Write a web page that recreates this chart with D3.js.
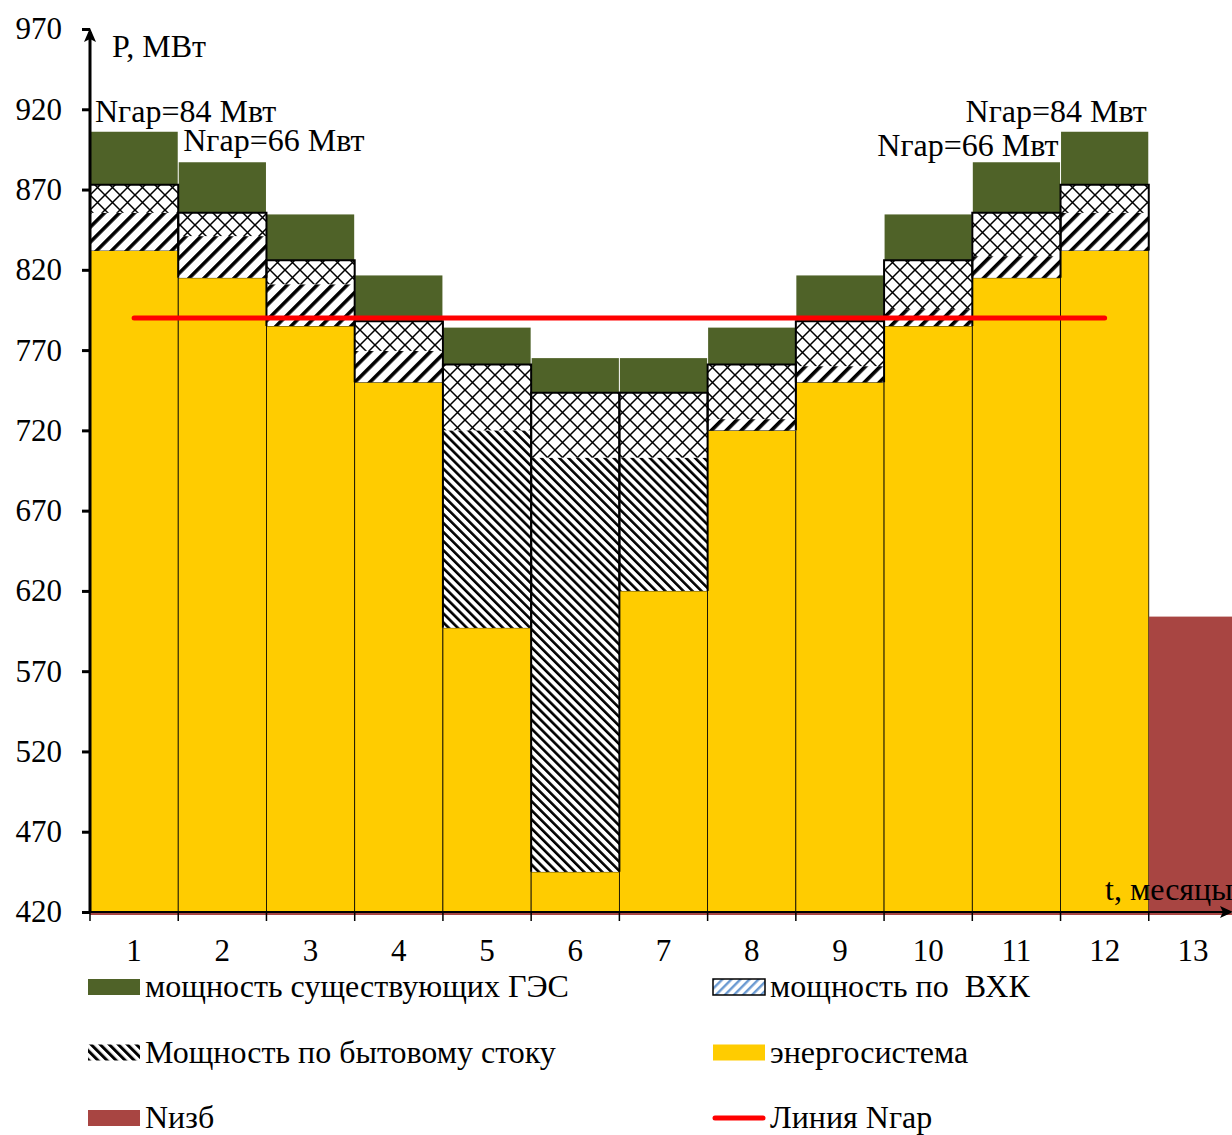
<!DOCTYPE html>
<html>
<head>
<meta charset="utf-8">
<script src="https://cdn.jsdelivr.net/npm/d3@7"></script>
<style>
  body { margin: 0; background: #fff; }
  text { font-family: "Liberation Serif", "DejaVu Serif", serif; fill: #000; }
</style>
</head>
<body>
<div id="chart"></div>
<script>
//////////////////////////////////////////////// Data //////////////////////////////////////////////
const months = [1, 2, 3, 4, 5, 6, 7, 8, 9, 10, 11, 12];
const allMonths = [1, 2, 3, 4, 5, 6, 7, 8, 9, 10, 11, 12, 13];
const energo  = [832, 815, 785, 750, 597, 445, 620, 720, 750, 785, 815, 832];   // энергосистема
const bytovoy = [23.5, 26, 26, 19.5, 123, 258, 83, 7, 10, 10.5, 13.5, 23.5];    // по бытовому стоку
const vhk     = [17.5, 14.5, 15, 18.5, 41, 40.5, 40.5, 34, 28, 30.5, 27, 17.5]; // по ВХК
const ges     = [33, 31.5, 28.5, 28.5, 23, 21.5, 21.5, 23, 28.5, 28.5, 31.5, 33]; // существующие ГЭС
const nizbMonths = [13];
const nizbValues = [604];
const ngar = 790;
const yTicks = [420, 470, 520, 570, 620, 670, 720, 770, 820, 870, 920, 970];

const notes = [
  {text: "Nгар=84 Мвт", month: 1, value: 912, side: "left"},
  {text: "Nгар=66 Мвт", month: 2, value: 894, side: "left"},
  {text: "Nгар=84 Мвт", month: 12, value: 912, side: "right"},
  {text: "Nгар=66 Мвт", month: 11, value: 891, side: "right"}
];

//////////////////////////////////////////////// Set-up //////////////////////////////////////////////
const W = 1232, H = 1135;
const fs = 31;
const colors = {ges: "#4f6228", energo: "#ffcc00", nizb: "#a84542", line: "#ff0000"};
const hatchDownMonths = [5, 6, 7]; // these bars use the "\" stripe in the original

const x = d3.scaleBand().domain(allMonths).range([90, 1237]).padding(0);
const y = d3.scaleLinear().domain([420, 970]).range([912, 29]);

const svg = d3.select("#chart").append("svg")
  .attr("width", W).attr("height", H);

const defs = svg.append("defs");

function stripes(id, angle, period, thick, color) {
  const p = defs.append("pattern")
    .attr("id", id)
    .attr("patternUnits", "userSpaceOnUse")
    .attr("width", period).attr("height", 10)
    .attr("patternTransform", "rotate(" + angle + ")");
  p.append("rect").attr("width", period).attr("height", 10).attr("fill", "#fff");
  p.append("rect").attr("width", thick).attr("height", 10).attr("fill", color);
}
stripes("hatchDown", -45, 6.4, 2.6, "#000");
stripes("hatchUp", 45, 10.6, 3.6, "#000");
stripes("hatchLegend", -45, 6.4, 3, "#000");
stripes("vhkLegend", 45, 6.4, 2.4, "#6c9bd2");

const cross = defs.append("pattern")
  .attr("id", "cross")
  .attr("patternUnits", "userSpaceOnUse")
  .attr("width", 15).attr("height", 15);
cross.append("rect").attr("width", 15).attr("height", 15).attr("fill", "#fff");
cross.append("path").attr("d", "M0,0L15,15M15,0L0,15")
  .attr("stroke", "#000").attr("stroke-width", 1.5);

//////////////////////////////////////////////// Bars //////////////////////////////////////////////
const table = months.map((m, i) => ({month: m, energo: energo[i], bytovoy: bytovoy[i], vhk: vhk[i], ges: ges[i]}));
const keys = ["energo", "bytovoy", "vhk", "ges"];
const series = d3.stack().keys(keys)(table);

const yv = v => y(Math.max(v, 420));

function fillFor(key, d) {
  if (key === "energo") return colors.energo;
  if (key === "ges") return colors.ges;
  if (key === "vhk") return "url(#cross)";
  return hatchDownMonths.includes(d.data.month) ? "url(#hatchDown)" : "url(#hatchUp)";
}

const layers = svg.append("g").selectAll("g")
  .data(series).enter().append("g");

layers.selectAll("rect")
  .data(s => s.map(d => Object.assign(d, {key: s.key})))
  .enter().append("rect")
  .attr("x", d => x(d.data.month) + (d.key === "ges" ? 0.5 : 0))
  .attr("width", d => x.bandwidth() - (d.key === "ges" ? 1 : 0))
  .attr("y", d => yv(d[1]))
  .attr("height", d => yv(d[0]) - yv(d[1]))
  .attr("fill", d => fillFor(d.key, d))
  .attr("stroke", d => d.key === "energo" ? "#000" : "none")
  .attr("stroke-width", 0.8);

// outline round the hatched part of each bar
svg.append("g").selectAll("path")
  .data(table).enter().append("path")
  .attr("fill", "none").attr("stroke", "#000").attr("stroke-width", 2)
  .attr("d", d => {
    const x0 = x(d.month), x1 = x0 + x.bandwidth();
    const b = y(d.energo), t = y(d.energo + d.bytovoy + d.vhk);
    return "M" + x0 + "," + b + "V" + t + "H" + x1 + "V" + b;
  });

// Nизб
svg.append("g").selectAll("rect")
  .data(nizbMonths.map((m, i) => ({month: m, value: nizbValues[i]})))
  .enter().append("rect")
  .attr("x", d => x(d.month))
  .attr("width", x.bandwidth())
  .attr("y", d => y(d.value))
  .attr("height", d => y(420) - y(d.value))
  .attr("fill", colors.nizb);

// Nгар line
svg.append("line")
  .attr("x1", x(1) + x.bandwidth() / 2).attr("x2", x(12) + x.bandwidth() / 2)
  .attr("y1", y(ngar)).attr("y2", y(ngar))
  .attr("stroke", colors.line).attr("stroke-width", 5).attr("stroke-linecap", "round");

//////////////////////////////////////////////// Axes //////////////////////////////////////////////
svg.append("line")
  .attr("x1", 90).attr("x2", 1232).attr("y1", y(420) + 2).attr("y2", y(420) + 2)
  .attr("stroke", colors.nizb).attr("stroke-width", 2);

const yAxis = svg.append("g")
  .attr("transform", "translate(90,0)")
  .call(d3.axisLeft(y).tickValues(yTicks).tickSize(8).tickPadding(20).tickFormat(d3.format("d")));
yAxis.select(".domain").remove();
yAxis.selectAll(".tick line").attr("stroke", "#000").attr("stroke-width", 3);
yAxis.selectAll("text").attr("font-size", fs).attr("font-family", "Liberation Serif");

const xAxis = svg.append("g")
  .attr("transform", "translate(0," + y(420) + ")")
  .call(d3.axisBottom(x).tickSize(0).tickPadding(27));
xAxis.select(".domain").remove();
xAxis.selectAll("text").attr("font-size", fs).attr("font-family", "Liberation Serif");

svg.append("g").selectAll("line")
  .data(allMonths).enter().append("line")
  .attr("x1", d => x(d)).attr("x2", d => x(d))
  .attr("y1", y(420)).attr("y2", y(420) + 9)
  .attr("stroke", "#000").attr("stroke-width", 1.5);

// axis lines with arrows
svg.append("line").attr("x1", 90).attr("x2", 90).attr("y1", y(420)).attr("y2", 32)
  .attr("stroke", "#000").attr("stroke-width", 3);
svg.append("path").attr("d", "M90,28L84,42L90,39L96,42Z").attr("fill", "#000");
svg.append("line").attr("x1", 90).attr("x2", 1228).attr("y1", y(420)).attr("y2", y(420))
  .attr("stroke", "#000").attr("stroke-width", 2);
svg.append("path").attr("d", "M1233," + y(420) + "l-13,-6l3,6l-3,6Z").attr("fill", "#000");

svg.append("text").attr("x", 112).attr("y", 57).attr("font-size", 32).text("P, МВт");
svg.append("text").attr("x", 1105).attr("y", 900).attr("font-size", 32).text("t, месяцы");

// notes
svg.append("g").selectAll("text")
  .data(notes).enter().append("text")
  .attr("font-size", 32)
  .attr("x", d => d.side === "left" ? x(d.month) + 5 : x(d.month) + x.bandwidth() - 2)
  .attr("y", d => y(d.value))
  .attr("text-anchor", d => d.side === "left" ? "start" : "end")
  .text(d => d.text);

//////////////////////////////////////////////// Legend //////////////////////////////////////////////
const legend = [
  {label: "мощность существующих ГЭС", fill: colors.ges, col: 0, row: 0},
  {label: "мощность по  ВХК", fill: "url(#vhkLegend)", border: true, col: 1, row: 0},
  {label: "Мощность по бытовому стоку", fill: "url(#hatchLegend)", col: 0, row: 1},
  {label: "энергосистема", fill: colors.energo, col: 1, row: 1},
  {label: "Nизб", fill: colors.nizb, col: 0, row: 2},
  {label: "Линия Nгар", line: true, col: 1, row: 2}
];
const lg = svg.append("g").selectAll("g")
  .data(legend).enter().append("g")
  .attr("transform", d => "translate(" + (d.col ? 713 : 88) + "," + (987 + d.row * 65.5) + ")");
lg.filter(d => !d.line).append("rect")
  .attr("x", 0).attr("y", -8).attr("width", 52).attr("height", 16)
  .attr("fill", d => d.fill)
  .attr("stroke", d => d.border ? "#000" : "none").attr("stroke-width", 1.5);
lg.filter(d => d.line).append("line")
  .attr("x1", 2).attr("x2", 50).attr("y1", 0).attr("y2", 0)
  .attr("stroke", colors.line).attr("stroke-width", 5).attr("stroke-linecap", "round");
lg.append("text")
  .attr("x", 57).attr("y", 10).attr("font-size", 32)
  .style("white-space", "pre")
  .text(d => d.label);
</script>
</body>
</html>
